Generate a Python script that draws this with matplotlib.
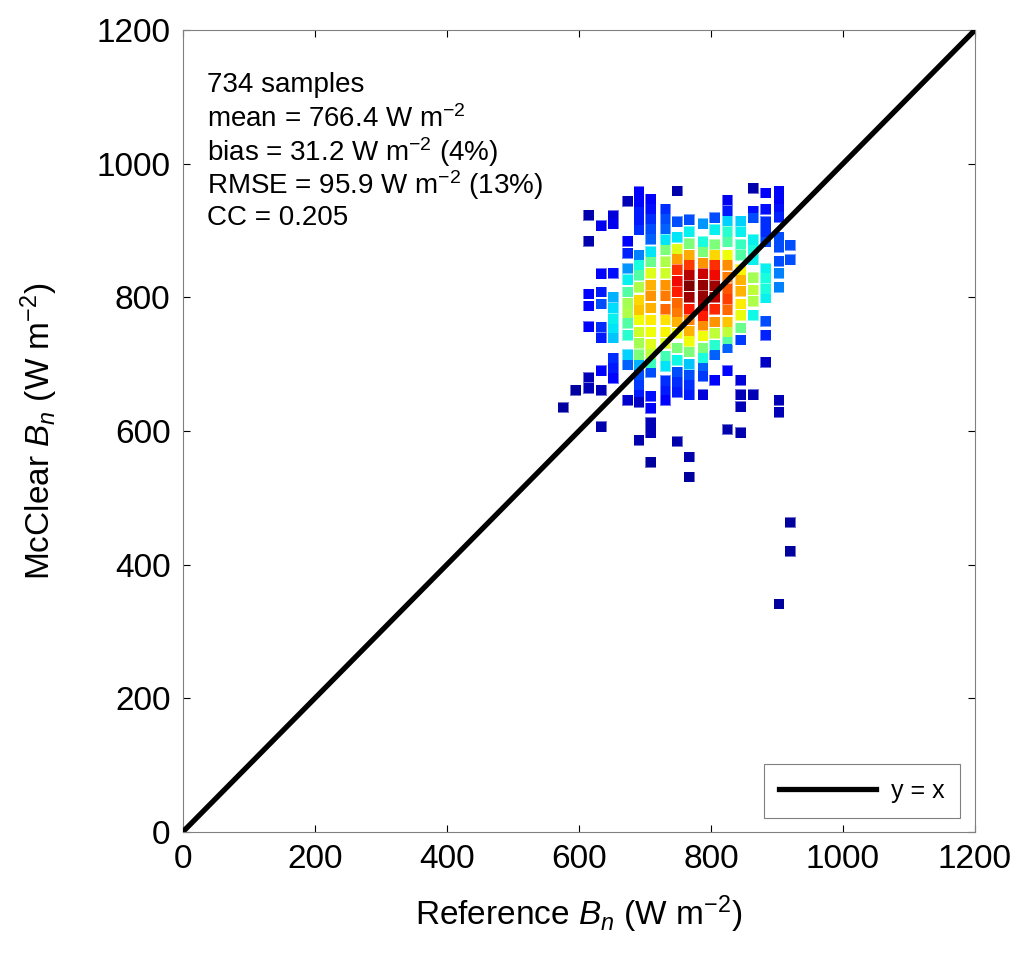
import numpy as np
import matplotlib
matplotlib.use("Agg")
import matplotlib.pyplot as plt

plt.rcParams["font.family"] = ["Liberation Sans", "DejaVu Sans"]
plt.rcParams["mathtext.fontset"] = "custom"
plt.rcParams["mathtext.rm"] = "Liberation Sans"
plt.rcParams["mathtext.it"] = "Liberation Sans:italic"

# -- data (x column, y values, density 0-1) ----
col_x = [576, 595, 615, 634, 652, 674, 691, 709, 731, 749,
         767, 788, 806, 825, 845, 864, 883, 903, 920]

col_y = [
    [635],
    [661],
    [923, 884, 805, 787, 756, 680, 664],
    [907, 835, 808, 790, 755, 739, 690, 661, 606],
    [922, 910, 836, 800, 784, 768, 754, 739, 709, 694, 679],
    [944, 884, 866, 843, 826, 808, 791, 776, 761, 743, 714, 699, 646],
    [958, 943, 928, 913, 901, 863, 848, 833, 815, 796, 781, 766, 748, 731,
     714, 699, 684, 669, 658, 643, 586],
    [947, 932, 917, 902, 887, 868, 853, 836, 818, 802, 784, 766, 748, 730,
     715, 701, 688, 652, 634, 612, 597, 553],
    [932, 917, 902, 886, 871, 853, 836, 818, 802, 782, 766, 748, 731, 712,
     697, 675, 661, 646],
    [959, 913, 890, 872, 857, 841, 824, 808, 791, 778, 763, 746, 724, 706,
     688, 673, 658, 584],
    [916, 898, 880, 863, 848, 833, 817, 800, 782, 766, 749, 734, 718, 700,
     684, 669, 654, 561, 531],
    [910, 883, 868, 851, 835, 818, 802, 787, 772, 758, 742, 724, 709, 697,
     682, 654],
    [919, 901, 879, 863, 848, 833, 817, 800, 782, 763, 746, 728, 714, 676],
    [945, 929, 914, 898, 883, 863, 848, 830, 813, 797, 781, 763, 748, 737,
     724, 690, 602],
    [914, 898, 879, 863, 841, 826, 809, 790, 773, 754, 736, 676, 654, 636, 597],
    [963, 929, 919, 886, 871, 856, 829, 811, 794, 773, 654],
    [956, 932, 913, 898, 883, 843, 829, 813, 799, 764, 743, 703],
    [959, 947, 932, 920, 890, 875, 854, 836, 815, 646, 628, 341],
    [878, 856, 463, 420],
]

col_d = [
    [0.03],
    [0.03],
    [0.04, 0.04, 0.11, 0.13, 0.12, 0.05, 0.05],
    [0.10, 0.12, 0.15, 0.20, 0.17, 0.15, 0.12, 0.05, 0.04],
    [0.08, 0.10, 0.14, 0.30, 0.34, 0.36, 0.35, 0.32, 0.17, 0.15, 0.13],
    [0.05, 0.12, 0.16, 0.27, 0.36, 0.45, 0.55, 0.56, 0.45, 0.40, 0.33, 0.22, 0.07],
    [0.12, 0.13, 0.15, 0.15, 0.17, 0.25, 0.38, 0.45, 0.56, 0.68, 0.70, 0.64, 0.60, 0.55,
     0.50, 0.30, 0.20, 0.18, 0.15, 0.06, 0.04],
    [0.12, 0.14, 0.17, 0.20, 0.22, 0.35, 0.48, 0.62, 0.72, 0.75, 0.72, 0.66, 0.64, 0.62,
     0.58, 0.42, 0.20, 0.14, 0.12, 0.05, 0.05, 0.03],
    [0.17, 0.20, 0.22, 0.35, 0.50, 0.56, 0.60, 0.75, 0.78, 0.80, 0.67, 0.65, 0.62, 0.43,
     0.35, 0.17, 0.15, 0.11],
    [0.04, 0.20, 0.35, 0.62, 0.74, 0.86, 0.90, 0.88, 0.80, 0.78, 0.72, 0.64, 0.50, 0.37,
     0.20, 0.17, 0.15, 0.04],
    [0.20, 0.36, 0.50, 0.73, 0.85, 0.95, 1.00, 0.97, 0.88, 0.77, 0.72, 0.64, 0.50, 0.32,
     0.20, 0.17, 0.15, 0.04, 0.03],
    [0.27, 0.38, 0.50, 0.75, 0.93, 0.98, 0.98, 0.95, 0.88, 0.76, 0.64, 0.50, 0.38, 0.22,
     0.18, 0.08],
    [0.20, 0.36, 0.50, 0.68, 0.86, 0.90, 0.97, 0.95, 0.87, 0.75, 0.58, 0.40, 0.22, 0.12],
    [0.10, 0.15, 0.33, 0.40, 0.45, 0.64, 0.76, 0.78, 0.82, 0.84, 0.80, 0.70, 0.58, 0.45,
     0.22, 0.13, 0.04],
    [0.33, 0.36, 0.42, 0.45, 0.65, 0.72, 0.72, 0.66, 0.63, 0.48, 0.18, 0.08, 0.05, 0.05, 0.04],
    [0.04, 0.14, 0.20, 0.36, 0.38, 0.36, 0.55, 0.58, 0.56, 0.37, 0.05],
    [0.12, 0.14, 0.17, 0.17, 0.20, 0.36, 0.38, 0.38, 0.36, 0.20, 0.16, 0.06],
    [0.12, 0.12, 0.14, 0.16, 0.20, 0.20, 0.20, 0.25, 0.25, 0.05, 0.05, 0.03],
    [0.20, 0.20, 0.03, 0.03],
]

stats_lines = [
    "734 samples",
    r"mean = 766.4 W m$^{-2}$",
    r"bias = 31.2 W m$^{-2}$ (4%)",
    r"RMSE = 95.9 W m$^{-2}$ (13%)",
    "CC = 0.205",
]
stats_y = [1117, 1066, 1017, 968, 919]
ticks = [0, 200, 400, 600, 800, 1000, 1200]

# -- flatten columns, low density first so the core sits on top ---------------
xs, ys, ds = [], [], []
for x, yl, dl in zip(col_x, col_y, col_d):
    for y, d in zip(yl, dl):
        xs.append(x)
        ys.append(y)
        ds.append(d)
xs, ys, ds = np.array(xs), np.array(ys), np.array(ds)
order = np.argsort(ds)
face = plt.cm.jet(ds[order])
halo = face.copy()
halo[:, :3] = 0.55 * face[:, :3] + 0.45

fig = plt.figure(figsize=(10.24, 9.6), dpi=100)
ax = fig.add_axes([0.1787, 0.1336, 0.7734, 0.8351])

# light outline layer first, then the faces, so only outer borders show
ax.scatter(xs[order], ys[order], s=61, marker="s", c=halo,
           linewidths=0, zorder=2)
ax.scatter(xs[order], ys[order], s=50, marker="s", c=face,
           linewidths=0, zorder=2.1)
ax.plot([0, 1200], [0, 1200], color="black", lw=3.8, label="y = x", zorder=3)

for txt, y in zip(stats_lines, stats_y):
    ax.text(36, y, txt, fontsize=20, va="center", ha="left")

ax.set_xlim(0, 1200)
ax.set_ylim(0, 1200)
ax.set_xticks(ticks)
ax.set_yticks(ticks)
ax.tick_params(direction="in", length=5, width=0.8, top=True, right=True,
               labelsize=24, pad=9)
for sp in ax.spines.values():
    sp.set_color("0.5")
    sp.set_linewidth(0.8)

ax.set_xlabel(r"Reference $B_n$ (W m$^{-2}$)", fontsize=24)
ax.set_ylabel(r"McClear $B_n$ (W m$^{-2}$)", fontsize=24)
ax.xaxis.set_label_coords(0.5, -0.077)
ax.yaxis.set_label_coords(-0.155, 0.5)

leg = ax.legend(loc="lower right", bbox_to_anchor=(0.981, 0.017), fontsize=18,
                fancybox=False, edgecolor="0.5", framealpha=1, borderaxespad=0,
                handlelength=3.9, borderpad=0.6, handletextpad=0.6)
leg.get_frame().set_linewidth(0.8)

fig.savefig("out.png", dpi=100)
